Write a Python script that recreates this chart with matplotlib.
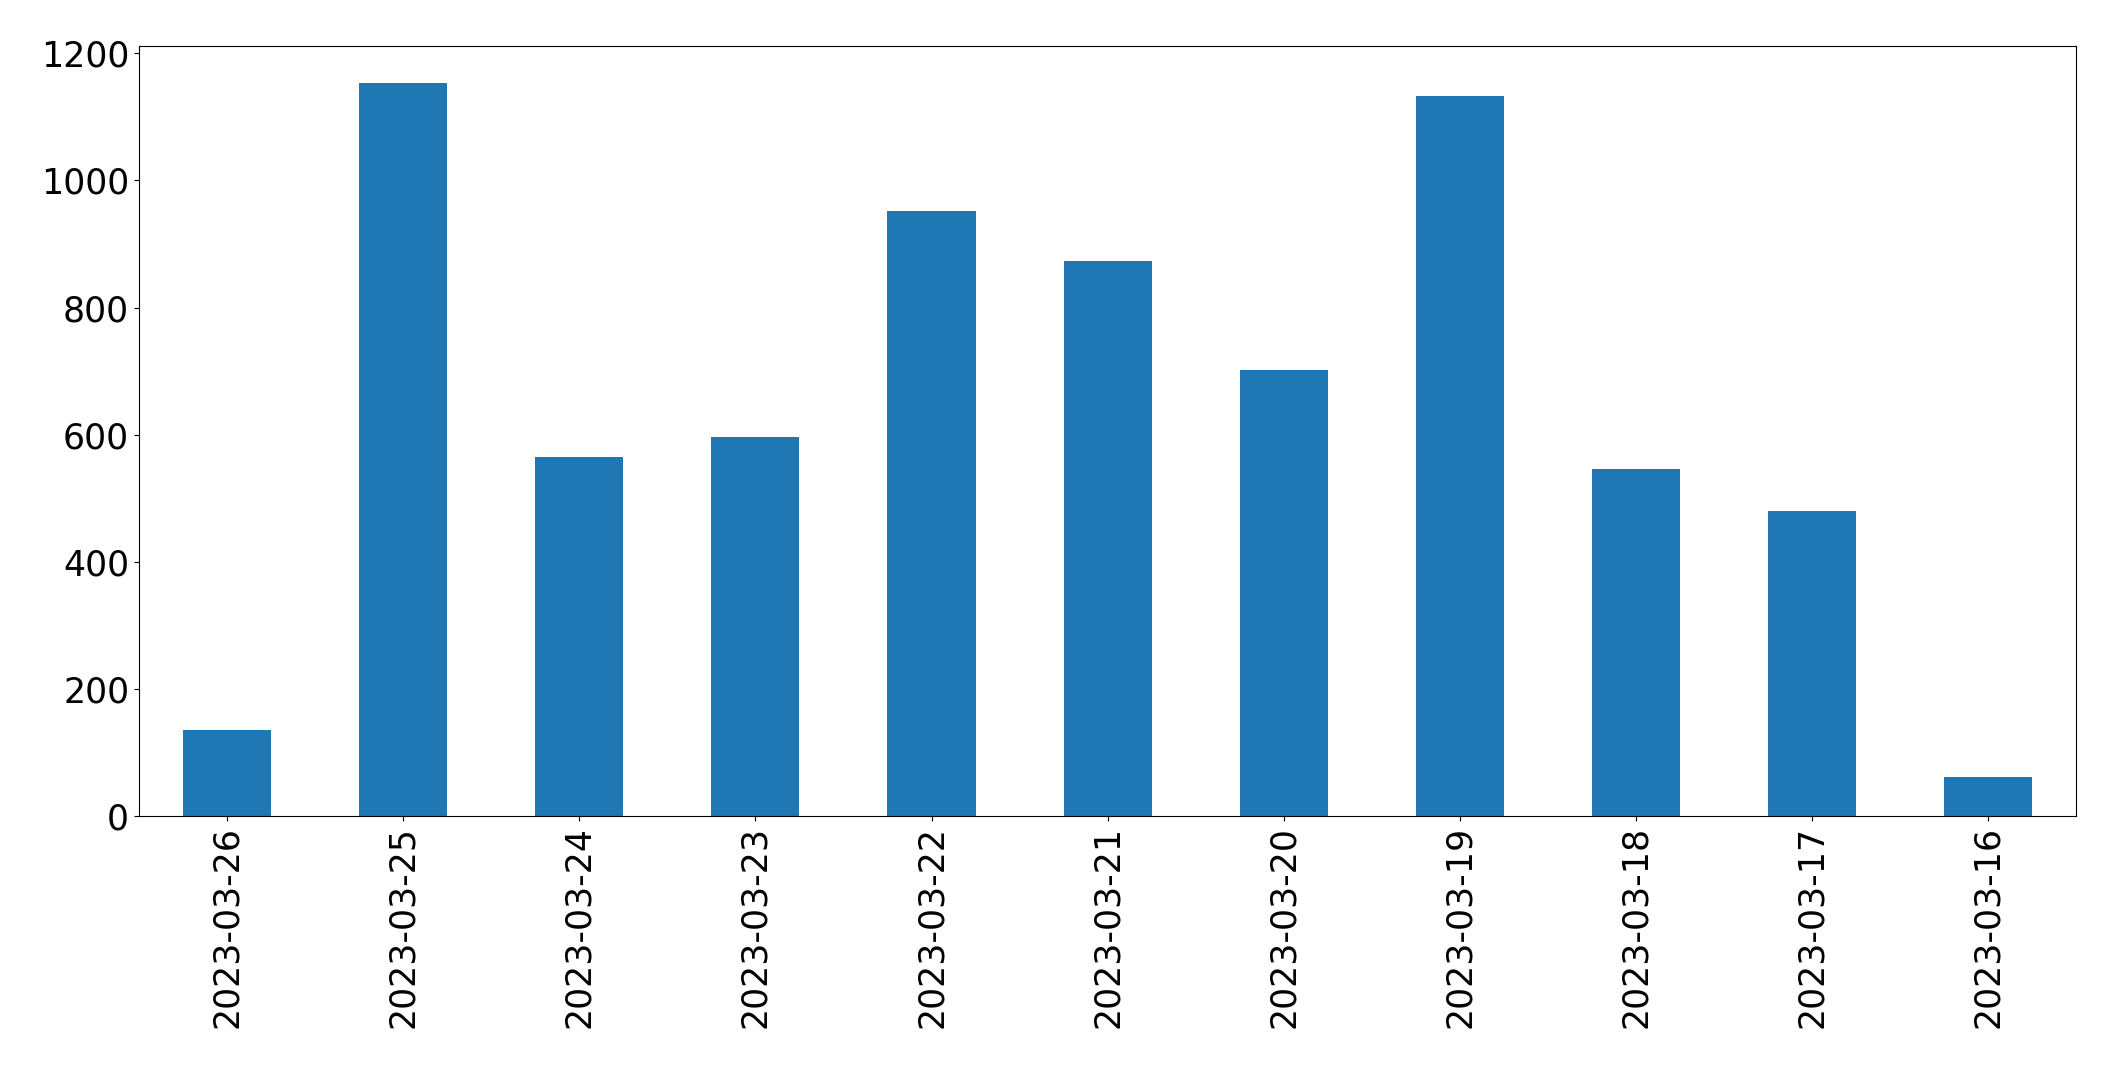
import matplotlib
matplotlib.use("Agg")
import matplotlib.pyplot as plt

dates = ["2023-03-26", "2023-03-25", "2023-03-24", "2023-03-23", "2023-03-22",
         "2023-03-21", "2023-03-20", "2023-03-19", "2023-03-18", "2023-03-17",
         "2023-03-16"]
counts = [136, 1153, 565, 597, 952, 873, 702, 1133, 546, 480, 62]

fig = plt.figure(figsize=(21.15, 10.68), dpi=100)
ax = fig.add_axes([0.0657, 0.2357, 0.9817 - 0.0657, 0.9566 - 0.2357])

x = range(len(dates))
ax.bar(x, counts, width=0.5, color="#1f77b4")
ax.set_xlim(-0.5, len(dates) - 0.5)
ax.set_xticks(list(x))
ax.set_xticklabels(dates, rotation=90)
ax.tick_params(axis="both", labelsize=25)
for s in ax.spines.values():
    s.set_color("black")

fig.savefig("out.png", dpi=100)
